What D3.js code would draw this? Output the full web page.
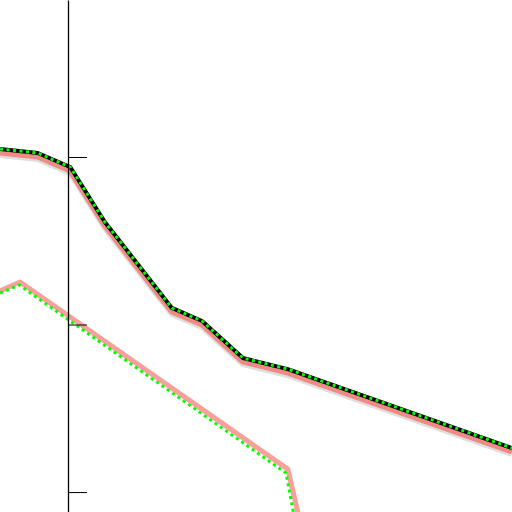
<!DOCTYPE html>
<html>
<head>
<meta charset="utf-8">
<script src="https://cdn.jsdelivr.net/npm/d3@7"></script>
<style>
  html, body { margin: 0; padding: 0; background: #fff; }
  svg { display: block; }
</style>
</head>
<body>
<div id="chart"></div>
<script>
// data (x in arbitrary units, y in tick units)
var topX      = [-1.53, -0.68, 0.05, 0.83, 2.34, 3.02, 3.94, 4.95, 10];
var topY      = [2.048, 2.024, 1.940, 1.612, 1.099, 1.021, 0.800, 0.734, 0.263];
var topPinkY  = [2.027, 2.003, 1.919, 1.591, 1.078, 1.000, 0.779, 0.713, 0.242];
var topGrayY  = [2.012, 1.988, 1.904, 1.576, 1.063, 0.985, 0.764, 0.698, 0.227];

var lowPinkX  = [-1.53, -1.08, 4.95, 5.38];
var lowPinkY  = [1.200, 1.254, 0.137, -0.350];
var lowGreenX = [-1.53, -1.10, 4.91, 5.24];
var lowGreenY = [1.188, 1.236, 0.113, -0.350];

var yTicks = [0, 1, 2];

var width = 512, height = 512;
var svg = d3.select("#chart").append("svg")
    .attr("width", width)
    .attr("height", height);

var x = d3.scaleLinear().domain([0, 10]).range([68, 512]);
var y = d3.scaleLinear().domain([-0.119, 2.937]).range([512, 0]);

var line = d3.line()
    .x(function(d){ return x(d[0]); })
    .y(function(d){ return y(d[1]); });

function pairs(xs, ys){ return xs.map(function(v, i){ return [v, ys[i]]; }); }

function draw(xs, ys, color, w, dash){
    var p = svg.append("path")
        .attr("d", line(pairs(xs, ys)))
        .attr("fill", "none")
        .attr("stroke", color)
        .attr("stroke-width", w)
        .attr("stroke-linejoin", "round");
    if(dash) p.attr("stroke-dasharray", dash);
    return p;
}

// lower pair
draw(lowPinkX, lowPinkY, "#f9a09a", 5);
draw(lowGreenX, lowGreenY, "#00ff00", 3, "3,3.5");

// upper stack
draw(topX, topGrayY, "#dedede", 6);
draw(topX, topPinkY, "#f08a85", 6);
draw(topX, topY, "#000", 4);
draw(topX, topY, "#00ff00", 3, "3,3.5");

// axis
var axis = d3.axisRight(y)
    .tickValues(yTicks)
    .tickSize(19)
    .tickSizeOuter(0)
    .tickFormat("");
var g = svg.append("g")
    .attr("transform", "translate(68,0)")
    .call(axis);
g.select(".domain").attr("stroke", "#000").attr("stroke-width", 1.3);
g.selectAll(".tick line").attr("stroke", "#000").attr("stroke-width", 1);
</script>
</body>
</html>
